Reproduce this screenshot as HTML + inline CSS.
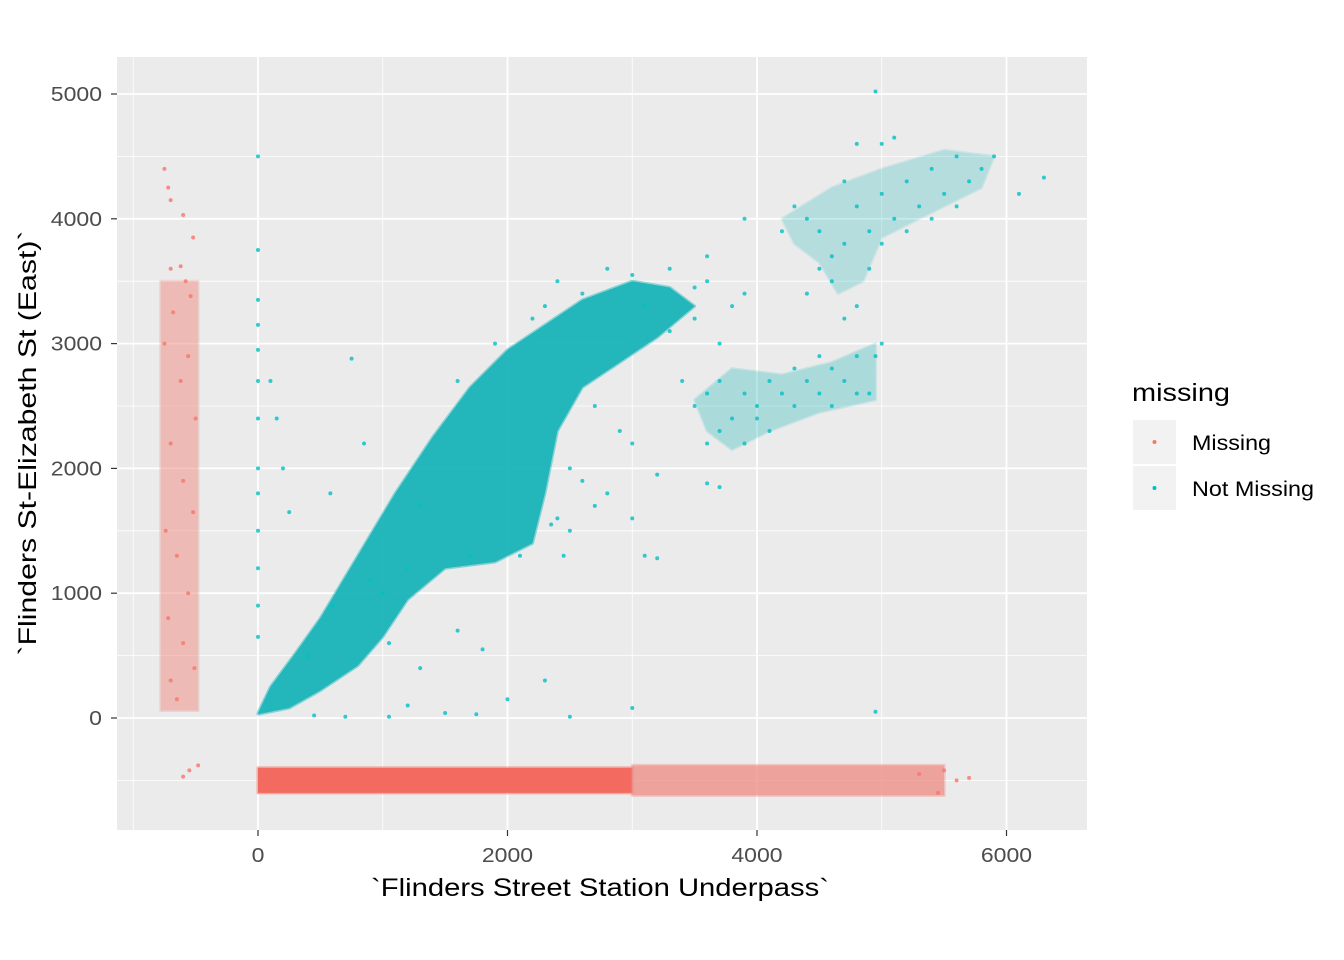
<!DOCTYPE html>
<html><head><meta charset="utf-8"><style>
body{margin:0;background:#fff;}
svg{display:block;font-family:"Liberation Sans",Arial,sans-serif;}
</style></head><body>
<svg id="chart" width="1344" height="960">
<rect x="117" y="57" width="970" height="773" fill="#EBEBEB"/>
<g id="grid"></g>
<g id="shapes"></g>
<g id="pts"></g>
<g id="axes"></g>
<text x="600" y="896" font-size="25" text-anchor="middle" textLength="458" lengthAdjust="spacingAndGlyphs" fill="#000">`Flinders Street Station Underpass`</text>
<text transform="translate(36,443) rotate(-90)" font-size="25" text-anchor="middle" textLength="425" lengthAdjust="spacingAndGlyphs" fill="#000">`Flinders St-Elizabeth St (East)`</text>
<g>
<text x="1132" y="401" font-size="25" textLength="98" lengthAdjust="spacingAndGlyphs" fill="#000">missing</text>
<rect x="1133" y="420" width="43" height="44" fill="#F2F2F2"/>
<circle cx="1154.5" cy="442" r="2" fill="#F8766D"/>
<text x="1192" y="450" font-size="21" textLength="79" lengthAdjust="spacingAndGlyphs" fill="#000">Missing</text>
<rect x="1133" y="466" width="43" height="44" fill="#F2F2F2"/>
<circle cx="1154.5" cy="488" r="2" fill="#00BFC4"/>
<text x="1192" y="496" font-size="21" textLength="122" lengthAdjust="spacingAndGlyphs" fill="#000">Not Missing</text>
</g>
</svg>
<script>
const xTicks=[0,2000,4000,6000];
const xMinor=[-1000,1000,3000,5000];
const yTicks=[0,1000,2000,3000,4000,5000];
const yMinor=[-500,500,1500,2500,3500,4500];
// dense region outlines (data coords)
const tealCore=[[0,40],[100,250],[300,520],[500,800],[800,1300],[1100,1800],[1400,2250],[1700,2650],[2000,2950],[2300,3150],[2600,3350],[3000,3500],[3300,3450],[3500,3300],[3200,3050],[2900,2850],[2600,2650],[2400,2300],[2300,1800],[2200,1400],[1900,1250],[1500,1200],[1200,950],[1000,650],[800,420],[500,220],[250,80],[0,30]];
const tealMidCluster=[[3500,2550],[3800,2800],[4200,2750],[4600,2850],[4950,3000],[4950,2550],[4500,2450],[4100,2300],[3800,2150],[3600,2300]];
const tealTopCluster=[[4200,4000],[4600,4250],[5000,4400],[5500,4550],[5900,4500],[5800,4250],[5400,4050],[5000,3850],[4850,3500],[4650,3400],[4500,3650],[4300,3800]];
const redBand=[[0,-600],[3000,-600],[3000,-400],[0,-400]];
const redBandSparse=[[3000,-620],[5500,-620],[5500,-380],[3000,-380]];
const redStrip=[[-780,60],[-480,60],[-480,3500],[-780,3500]];
const tealPts=[[3600,3500],[3800,3300],[3700,3000],[3900,3400],[3300,3600],[3500,3200],[3400,2700],[3600,2600],[3700,2700],[3800,2400],[3900,2600],[4000,2500],[4100,2700],[4200,2600],[4300,2500],[4400,2700],[4500,2600],[4600,2800],[4700,2700],[4800,2900],[4900,2600],[4950,2900],[3600,2200],[3700,2300],[3900,2200],[4000,2400],[4100,2300],[3500,2500],[4300,2800],[4500,2900],[4600,2500],[4800,2600],[4200,3900],[4300,4100],[4400,4000],[4500,3600],[4600,3700],[4700,3800],[4800,4100],[4900,3900],[5000,4200],[5100,4000],[5200,4300],[5300,4100],[5400,4400],[5500,4200],[5600,4500],[5700,4300],[5800,4400],[5900,4500],[4700,4300],[4600,3500],[4900,3600],[5000,3800],[5200,3900],[5400,4000],[5600,4100],[5000,4600],[4800,4600],[5100,4650],[4950,5020],[6300,4330],[6100,4200],[4400,3400],[4500,3900],[4800,3300],[4700,3200],[5000,3000],[2400,3500],[2600,3400],[2800,3600],[3000,3550],[3100,3300],[3600,3700],[3900,4000],[2900,2300],[3000,2200],[3200,1950],[2700,1700],[2800,1800],[3100,1300],[3200,1280],[3000,1600],[2500,1500],[2600,1900],[2400,1600],[3600,1880],[3700,1850],[0,4500],[0,3750],[0,3350],[0,3150],[0,2950],[0,2700],[0,2400],[0,2000],[0,1800],[0,1500],[0,1200],[0,900],[0,650],[100,2700],[150,2400],[200,2000],[250,1650],[580,1800],[750,2880],[850,2200],[1000,1000],[1050,600],[1300,400],[1500,40],[1750,30],[2000,150],[2500,10],[3000,80],[4950,50],[700,10],[1050,10],[1200,100],[450,20],[2300,300],[1800,550],[1600,700],[2300,3300],[2200,3200],[1900,3000],[1600,2700],[2450,1300],[2350,1550],[2500,2000],[2700,2500],[3300,3100],[3500,3450],[1300,1700],[900,1100],[600,900],[400,500],[1200,1200],[1700,1300],[2100,1300]];
const redPts=[[-750,4400],[-720,4250],[-700,4150],[-600,4030],[-520,3850],[-620,3620],[-580,3500],[-700,3600],[-540,3380],[-680,3250],[-560,2900],[-750,3000],[-620,2700],[-500,2400],[-700,2200],[-600,1900],[-520,1650],[-740,1500],[-650,1300],[-560,1000],[-720,800],[-600,600],[-510,400],[-700,300],[-650,150],[-600,-470],[-550,-420],[-480,-380],[5600,-500],[5700,-480],[5450,-600],[5300,-450],[5500,-420]];
const X=v=>258+(v/2000)*249.5;
const Y=v=>718-(v/1000)*124.8;
const NS="http://www.w3.org/2000/svg";
const grid=document.getElementById('grid');
function ln(g,x1,y1,x2,y2,w,c){const l=document.createElementNS(NS,'line');l.setAttribute('x1',x1);l.setAttribute('y1',y1);l.setAttribute('x2',x2);l.setAttribute('y2',y2);l.setAttribute('stroke',c);l.setAttribute('stroke-width',w);g.appendChild(l);return l;}
xMinor.forEach(v=>ln(grid,X(v),57,X(v),830,0.8,'#fff'));
yMinor.forEach(v=>ln(grid,117,Y(v),1087,Y(v),0.8,'#fff'));
xTicks.forEach(v=>ln(grid,X(v),57,X(v),830,1.8,'#fff'));
yTicks.forEach(v=>ln(grid,117,Y(v),1087,Y(v),1.8,'#fff'));
const shapes=document.getElementById('shapes');
function poly(arr,fill,op,name){const p=document.createElementNS(NS,'polygon');
p.setAttribute('points',arr.map(d=>X(d[0])+','+Y(d[1])).join(' '));
p.setAttribute('fill',fill);p.setAttribute('opacity',op);
p.setAttribute('stroke',fill);p.setAttribute('stroke-width',3);p.setAttribute('stroke-opacity',0.5);p.setAttribute('stroke-linejoin','round');


shapes.appendChild(p);}
poly(tealCore,'#19B5B9',0.95,'not-missing-dense-cloud');
poly(tealMidCluster,'#19B5B9',0.3,'not-missing-mid-cluster');
poly(tealTopCluster,'#19B5B9',0.25,'not-missing-top-cluster');
poly(redBand,'#F26A60',1,'missing-x-band-dense');
poly(redBandSparse,'#F08A82',0.75,'missing-x-band-sparse');
poly(redStrip,'#F0938B',0.55,'missing-y-strip');
const pts=document.getElementById('pts');
function dot(d,c){const e=document.createElementNS(NS,'circle');
e.setAttribute('cx',X(d[0]));e.setAttribute('cy',Y(d[1]));e.setAttribute('r',2);e.setAttribute('fill',c);e.setAttribute('opacity',0.8);


pts.appendChild(e);}
tealPts.forEach(d=>dot(d,'#00BFC4'));
redPts.forEach(d=>dot(d,'#F8766D'));
const axes=document.getElementById('axes');
function txt(x,y,s,anchor){const t=document.createElementNS(NS,'text');t.setAttribute('x',x);t.setAttribute('y',y);t.setAttribute('font-size',20);t.setAttribute('textLength',s.length*12.8);t.setAttribute('lengthAdjust','spacingAndGlyphs');t.setAttribute('fill','#4D4D4D');t.setAttribute('text-anchor',anchor);t.textContent=s;axes.appendChild(t);return t;}
xTicks.forEach(v=>{ln(axes,X(v),830,X(v),836,1.2,'#333');
const t=txt(X(v),862,String(v),'middle');

});
yTicks.forEach(v=>{ln(axes,111,Y(v),117,Y(v),1.2,'#333');
const t=txt(102,Y(v)+7,String(v),'end');

});
</script>
</body></html>
